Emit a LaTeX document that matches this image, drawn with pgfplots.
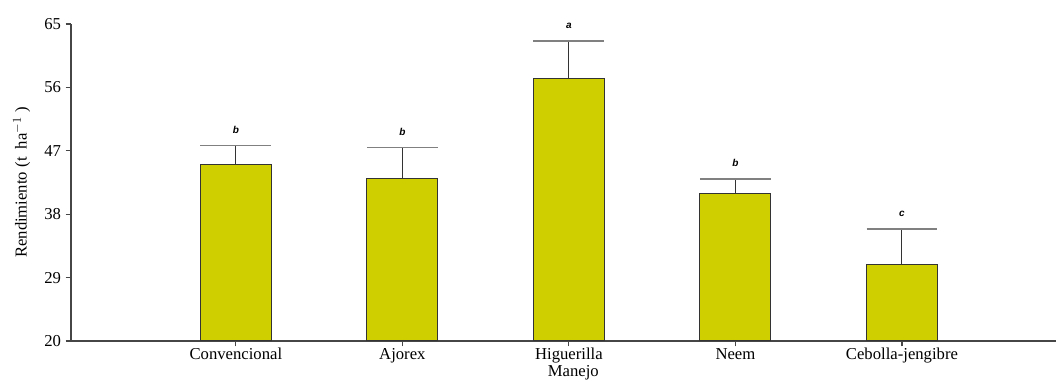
\documentclass[border=0pt]{standalone}
\usepackage{pgfplots}
\pgfplotsset{compat=1.18}
\usepackage{pgfplotstable}
\usepackage{fontspec}
\setmainfont{Liberation Serif}
\newfontfamily\arialfont{Liberation Sans}
\definecolor{barcol}{RGB}{207,207,0}
\definecolor{axgray}{RGB}{70,70,70}
\pgfplotstableread{
x y e top lab
0 45.0 2.7 47.7 b
1 43.0 4.5 47.5 b
2 57.2 5.4 62.6 a
3 40.9 2.1 43.0 b
4 30.8 5.1 35.9 c
}\datatable
\begin{document}
\begin{tikzpicture}
\begin{axis}[name=ax, scale only axis, width=738.75pt, height=237.75pt,
  xmin=-0.99, xmax=4.925, ymin=20, ymax=65,
  ytick={20,29,38,47,56,65},
  xtick={0,1,2,3,4},
  xticklabels={Convencional,Ajorex,Higuerilla,Neem,Cebolla-jengibre},
  axis x line*=bottom, axis y line*=left,
  axis line style={axgray, line width=0.8pt, -},
  tick style={axgray, line width=0.8pt},
  major tick length=4pt, tick align=outside,
  ticklabel style={font=\fontsize{12.5}{14}\selectfont},
  label style={font=\fontsize{12.5}{14}\selectfont},
  /pgf/number format/assume math mode=true,
  ylabel={Rendimiento (t\ \ ha$^{-1}$ )},
  ylabel style={at={(axis description cs:-0.05,0.5)}, anchor=center},
  xlabel={Manejo},
  xlabel style={at={(axis description cs:0.51,0)}, anchor=base, yshift=-27pt},
  xticklabel style={anchor=base, yshift=-10pt},
  clip=false,
]
\addplot[ybar, bar width=53.25pt, fill=barcol, draw=black!80, line width=0.75pt,
  error bars/.cd, y dir=plus, y explicit,
  error bar style={black!80, line width=0.75pt},
  error mark options={gray, line width=0.9pt, mark size=26.6pt, rotate=90}]
  table[x=x, y=y, y error=e] {\datatable};
\addplot[only marks, mark=none, nodes near coords, point meta=explicit symbolic,
  nodes near coords style={anchor=base, inner sep=0pt, yshift=9pt,
  font=\arialfont\fontsize{7.5}{9}\selectfont\bfseries\itshape}]
  table[x=x, y=top, meta=lab] {\datatable};
\end{axis}
\pgfresetboundingbox
\path ([shift={(-53.25pt,-30pt)}]ax.south west) rectangle ([shift={(0pt,18pt)}]ax.north east);
\end{tikzpicture}
\end{document}
